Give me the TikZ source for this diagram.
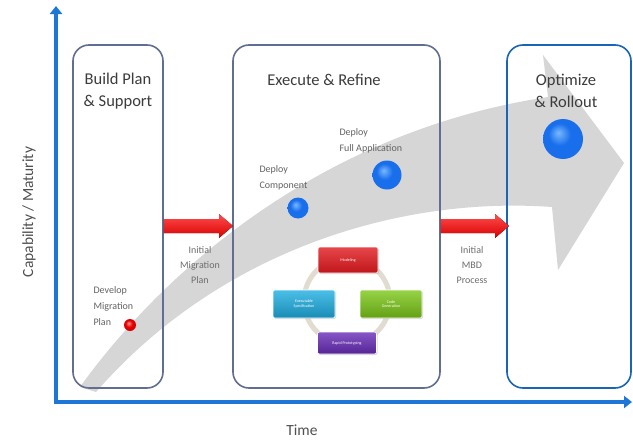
\documentclass[tikz,border=0pt]{standalone}
\usepackage{fontspec}
\setmainfont{Carlito}
\usetikzlibrary{arrows.meta,shadings,shadows,calc}
\definecolor{axisblue}{RGB}{30,118,215}
\definecolor{boxline}{RGB}{95,110,145}
\definecolor{txt}{RGB}{60,60,60}
\definecolor{bandgray}{RGB}{214,214,214}
\definecolor{ringc}{RGB}{226,219,207}
\definecolor{ballblue}{RGB}{25,110,235}
\definecolor{balllight}{RGB}{120,185,255}
\definecolor{balldark}{RGB}{15,60,160}
\definecolor{cred}{RGB}{225,25,30}
\definecolor{ccyan}{RGB}{30,175,225}
\definecolor{cgreen}{RGB}{125,200,25}
\definecolor{cpurple}{RGB}{105,45,185}
\pgfdeclareradialshading{bball}{\pgfpoint{-6bp}{8bp}}{color(0bp)=(balllight); color(14bp)=(ballblue); color(30bp)=(ballblue); color(40bp)=(balldark); color(50bp)=(balldark)}
\pgfdeclareradialshading{rball}{\pgfpoint{-6bp}{8bp}}{color(0bp)=(red!40!white); color(14bp)=(red!90!black); color(35bp)=(red!80!black); color(50bp)=(red!50!black)}
\begin{document}
\begin{tikzpicture}[x=1pt,y=-1pt,
  stage/.style={draw=boxline,line width=1.6pt,rounded corners=16pt,fill=none},
  title/.style={text=txt,font=\fontsize{16.5}{22}\selectfont,align=center},
  lbl/.style={text=txt!75,font=\fontsize{10}{15}\selectfont,align=center},
  lbll/.style={text=txt!80,font=\fontsize{10}{16}\selectfont,align=left},
  axlbl/.style={text=txt!90,font=\fontsize{15.5}{18}\selectfont},
  redarrow/.style={top color=red!70,bottom color=red!85!black,draw=none},
  cyc/.style={rounded corners=2pt,text=white,font=\fontsize{4}{4.5}\selectfont,align=center,inner sep=1pt,draw=white,line width=0.6pt,drop shadow={opacity=0.3,shadow xshift=1pt,shadow yshift=-1pt}}
]
\useasboundingbox (0,0) rectangle (633,442);
\fill[white] (0,0) rectangle (633,442);

% big gray arrow
\fill[bandgray] (80,387) .. controls (170,262) and (330,130) .. (548,97)
  -- (543,55) -- (624,163) -- (558,270) -- (552,207)
  .. controls (400,196) and (220,250) .. (96,392) -- cycle;

% stage boxes
\node[stage,minimum width=90pt,minimum height=343pt] (b1) at (118,216.5) {};
\node[stage,minimum width=207pt,minimum height=343pt] (b2) at (336.5,216.5) {};
\node[stage,draw=axisblue!85!black,minimum width=124pt,minimum height=343pt] (b3) at (569,216.5) {};

\node[title] (t1) at (118,91) {Build Plan\\\& Support};
\node[title] (t2) at (324,80) {Execute \& Refine};
\node[title] (t3) at (566,91) {Optimize\\\& Rollout};

% axes
\coordinate (o) at (56,402);
\coordinate (ytop) at (56,6);
\coordinate (xend) at (632,402);
\draw[axisblue,line width=4.5pt,-{Triangle[width=12pt,length=8pt]}] ($(o)+(0,2.25)$) -- (ytop);
\draw[axisblue,line width=4.5pt,-{Triangle[width=12pt,length=8pt]}] ($(o)+(-2.25,0)$) -- (xend);
\node[axlbl,rotate=90] (ylab) at (29,212) {Capability / Maturity};
\node[axlbl] (xlab) at (302,430) {Time};

% red arrows
\fill[redarrow] (b1.east |- 0,219) -- (219,219) -- (219,214) -- (233,226) -- (219,238) -- (219,233) -- (b1.east |- 0,233) -- cycle;
\fill[redarrow] (b2.east |- 0,219) -- (495,219) -- (495,214) -- (509,226) -- (495,238) -- (495,233) -- (b2.east |- 0,233) -- cycle;
\node[lbl] (l1) at (200,265) {Initial\\Migration\\Plan};
\node[lbl] (l2) at (472,265) {Initial\\MBD\\Process};

% milestones
\node[lbll,anchor=west] (m1t) at (90,306) {Develop\\Migration\\Plan};
\shade[shading=rball] (130,325) circle (6pt);
\node[lbll,anchor=west] (m2t) at (256,178) {Deploy\\Component};
\shade[shading=bball] (298,208) circle (10.5pt);
\node[lbll,anchor=west] (m3t) at (336,141) {Deploy\\Full Application};
\shade[shading=bball] (387,175) circle (14.5pt);
\shade[shading=bball] (563,139) circle (20pt);

% cycle
\draw[ringc,line width=5pt] (347,301) circle (43pt);
\node[cyc,top color=cred!80!white,bottom color=cred!85!black,minimum width=60pt,minimum height=26pt] (c1) at (348,260) {Modeling};
\node[cyc,top color=ccyan!80!white,bottom color=ccyan!80!black,minimum width=62pt,minimum height=28pt] (c2) at (304,304) {Executable\\Specification};
\node[cyc,top color=cgreen!80!white,bottom color=cgreen!80!black,minimum width=62pt,minimum height=28pt] (c3) at (391,304) {Code\\Generation};
\node[cyc,top color=cpurple!80!white,bottom color=cpurple!80!black,minimum width=59pt,minimum height=22pt] (c4) at (347,343) {Rapid Prototyping};
\end{tikzpicture}
\end{document}
